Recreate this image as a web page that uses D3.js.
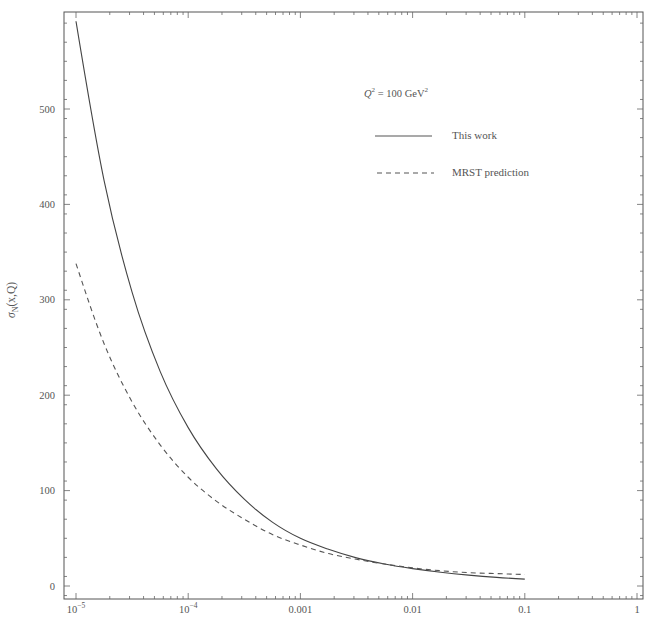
<!doctype html>
<html lang="en">
<head>
<meta charset="UTF-8">
<title>sigma_N</title>
<style>
  body { margin: 0; background: #fff; }
  text { font-family: "Liberation Serif", "DejaVu Serif", serif; fill: #555; }
</style>
</head>
<body>
<div class="container"></div>
<script src="https://d3js.org/d3.v7.min.js"></script>
<script>
  const SVG_WIDTH = 646;
  const SVG_HEIGHT = 619;

  // data: x at quarter decades, sigma_N values
  const xValues = [1e-5, 1.78e-5, 3.16e-5, 5.62e-5, 1e-4, 1.78e-4, 3.16e-4, 5.62e-4, 1e-3,
                   1.78e-3, 3.16e-3, 5.62e-3, 1e-2, 1.78e-2, 3.16e-2, 5.62e-2, 0.1];
  const thisWork = [592, 425, 308, 225, 166, 123, 91, 67, 50, 38.5, 29.5, 23, 18.2, 14.4, 11.4, 9, 7.2];
  const mrst = [338, 254, 193, 148, 114, 89, 70, 54, 43, 34, 28, 23, 19, 16, 14, 13, 12];

  const xTickValues = [1e-5, 1e-4, 1e-3, 1e-2, 0.1, 1];
  const xTickLabels = ['10', '10', '0.001', '0.01', '0.1', '1'];
  const xTickExps = ['\u22125', '\u22124', '', '', '', ''];
  const yTickValues = [0, 100, 200, 300, 400, 500];

  const FRAME = { left: 64, right: 643, top: 12, bottom: 599 };

  const svg = d3.select('.container')
    .append('svg')
    .attr('width', SVG_WIDTH)
    .attr('height', SVG_HEIGHT);

  const x = d3.scaleLog()
    .domain([1e-5, 1])
    .range([76, 637]);

  const y = d3.scaleLinear()
    .domain([0, 500])
    .range([586, 109]);

  // frame
  svg.append('rect')
    .attr('x', FRAME.left)
    .attr('y', FRAME.top)
    .attr('width', FRAME.right - FRAME.left)
    .attr('height', FRAME.bottom - FRAME.top)
    .attr('fill', 'none')
    .attr('stroke', '#555')
    .attr('stroke-width', 1);

  // x ticks (major + minor), bottom and top
  const xMinor = [];
  for (let e = -5; e < 0; e++) {
    for (let k = 2; k <= 9; k++) xMinor.push(k * Math.pow(10, e));
  }
  const tickG = svg.append('g').attr('stroke', '#666').attr('stroke-width', 0.8);
  xTickValues.forEach(v => {
    tickG.append('line').attr('x1', x(v)).attr('x2', x(v)).attr('y1', FRAME.bottom).attr('y2', FRAME.bottom - 6);
    tickG.append('line').attr('x1', x(v)).attr('x2', x(v)).attr('y1', FRAME.top).attr('y2', FRAME.top + 6);
  });
  xMinor.forEach(v => {
    tickG.append('line').attr('x1', x(v)).attr('x2', x(v)).attr('y1', FRAME.bottom).attr('y2', FRAME.bottom - 3);
    tickG.append('line').attr('x1', x(v)).attr('x2', x(v)).attr('y1', FRAME.top).attr('y2', FRAME.top + 3);
  });

  // y ticks (major + minor), left and right
  const yMinor = d3.range(-10, 601, 20).filter(v => v % 100 !== 0 && y(v) <= FRAME.bottom && y(v) >= FRAME.top);
  yTickValues.forEach(v => {
    tickG.append('line').attr('x1', FRAME.left).attr('x2', FRAME.left + 6).attr('y1', y(v)).attr('y2', y(v));
    tickG.append('line').attr('x1', FRAME.right).attr('x2', FRAME.right - 6).attr('y1', y(v)).attr('y2', y(v));
  });
  yMinor.forEach(v => {
    tickG.append('line').attr('x1', FRAME.left).attr('x2', FRAME.left + 3).attr('y1', y(v)).attr('y2', y(v));
    tickG.append('line').attr('x1', FRAME.right).attr('x2', FRAME.right - 3).attr('y1', y(v)).attr('y2', y(v));
  });

  // tick labels
  xTickValues.forEach((v, i) => {
    const t = svg.append('text')
      .attr('x', x(v))
      .attr('y', FRAME.bottom + 14)
      .attr('text-anchor', 'middle')
      .attr('font-size', 10.5)
      .text(xTickLabels[i]);
    if (xTickExps[i]) {
      t.append('tspan').attr('dy', -5).attr('font-size', 7.5).text(xTickExps[i]);
    }
  });
  yTickValues.forEach(v => {
    svg.append('text')
      .attr('x', FRAME.left - 9)
      .attr('y', y(v) + 3.5)
      .attr('text-anchor', 'end')
      .attr('font-size', 10.5)
      .text(v);
  });

  // y axis label
  const yLab = svg.append('text')
    .attr('transform', 'translate(15, 300) rotate(-90)')
    .attr('text-anchor', 'middle')
    .attr('font-size', 11.5);
  yLab.append('tspan').attr('font-style', 'italic').text('\u03c3');
  yLab.append('tspan').attr('font-size', 8).attr('dy', 3).text('N');
  yLab.append('tspan').attr('dy', -3).text('(x,Q)');

  // curves
  const line = d3.line()
    .x(d => x(d[0]))
    .y(d => y(d[1]))
    .curve(d3.curveMonotoneX);

  svg.append('path')
    .datum(xValues.map((v, i) => [v, thisWork[i]]))
    .attr('d', line)
    .attr('fill', 'none')
    .attr('stroke', '#444')
    .attr('stroke-width', 1.1);

  svg.append('path')
    .datum(xValues.map((v, i) => [v, mrst[i]]))
    .attr('d', line)
    .attr('fill', 'none')
    .attr('stroke', '#555')
    .attr('stroke-width', 1.1)
    .attr('stroke-dasharray', '5,4');

  // legend
  const q = svg.append('text')
    .attr('x', 364)
    .attr('y', 97)
    .attr('font-size', 10.5);
  q.append('tspan').attr('font-style', 'italic').text('Q');
  q.append('tspan').attr('dy', -5).attr('font-size', 7).text('2');
  q.append('tspan').attr('dy', 5).text(' = 100 GeV');
  q.append('tspan').attr('dy', -5).attr('font-size', 7).text('2');

  svg.append('line')
    .attr('x1', 375).attr('x2', 432).attr('y1', 136).attr('y2', 136)
    .attr('stroke', '#555').attr('stroke-width', 1.1);
  svg.append('text').attr('x', 452).attr('y', 139).attr('font-size', 11).text('This work');

  svg.append('line')
    .attr('x1', 377).attr('x2', 434).attr('y1', 173).attr('y2', 173)
    .attr('stroke', '#555').attr('stroke-width', 1.1)
    .attr('stroke-dasharray', '5,4');
  svg.append('text').attr('x', 452).attr('y', 176).attr('font-size', 11).text('MRST prediction');
</script>
</body>
</html>
